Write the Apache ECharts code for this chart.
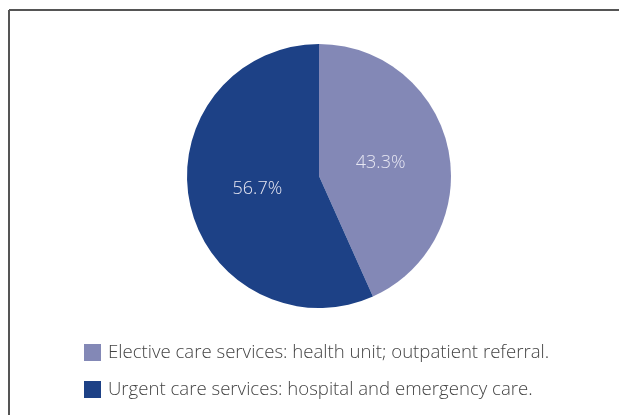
<!DOCTYPE html>
<html>
<head>
<meta charset="utf-8">
<script src="https://cdn.jsdelivr.net/npm/echarts@6/dist/echarts.min.js"></script>
<style>
  html, body { margin: 0; padding: 0; background: #fff; }
  #main { width: 619px; height: 415px; }
</style>
</head>
<body>
<div id="main"></div>
<script>
  // care service split
  var categories = [
    'Elective care services: health unit; outpatient referral.',
    'Urgent care services: hospital and emergency care.'
  ];
  var shares = [43.3, 56.7];
  var colors = ['#8388b6', '#1d4186'];

  var chart = echarts.init(document.getElementById('main'));
  var pieData = categories.map(function (name, i) {
    return { name: name, value: shares[i], itemStyle: { color: colors[i] } };
  });
  // same slices again, only to carry the labels a bit closer to the centre
  var labelData = categories.map(function (name, i) {
    return { name: name, value: shares[i] };
  });

  var option = {
    animation: false,
    backgroundColor: '#fff',
    textStyle: { fontFamily: 'Open Sans' },
    legend: {
      orient: 'vertical',
      left: 84,
      top: 343,
      padding: 0,
      itemWidth: 17,
      itemHeight: 17,
      itemGap: 18,
      icon: 'rect',
      textStyle: { color: '#444', fontSize: 18.6, fontFamily: 'Open Sans', fontWeight: 300, padding: [0, 0, 0, 2] },
      data: categories
    },
    graphic: [
      { type: 'line', shape: { x1: 9, y1: 10, x2: 619, y2: 10 }, style: { stroke: '#555', lineWidth: 2 } },
      { type: 'line', shape: { x1: 9, y1: 10, x2: 9, y2: 415 }, style: { stroke: '#555', lineWidth: 2 } }
    ],
    series: [{
      type: 'pie',
      center: [319, 176],
      radius: 132,
      startAngle: 90,
      clockwise: true,
      label: { show: false },
      labelLine: { show: false },
      emphasis: { disabled: true },
      data: pieData
    }, {
      type: 'pie',
      center: [319, 176],
      radius: 120,
      startAngle: 90,
      clockwise: true,
      silent: true,
      legendHoverLink: false,
      itemStyle: { color: 'rgba(0,0,0,0)' },
      label: {
        position: 'inside',
        formatter: function (p) { return p.value.toFixed(1) + '%'; },
        color: '#e6e6f2',
        fontSize: 18,
        fontFamily: 'Open Sans',
        fontWeight: 300
      },
      labelLine: { show: false },
      emphasis: { disabled: true },
      data: labelData
    }]
  };
  chart.setOption(option);
</script>
</body>
</html>
